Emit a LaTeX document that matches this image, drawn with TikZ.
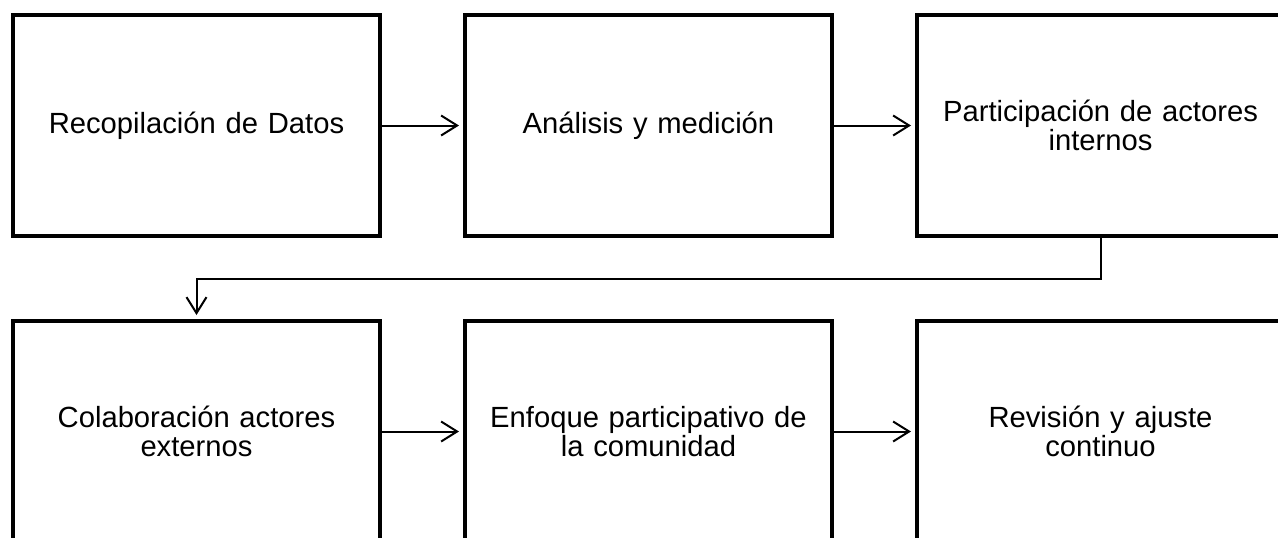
\documentclass[tikz,border=0pt]{standalone}
\usepackage{fontspec}
\setmainfont{Liberation Sans}
\usetikzlibrary{arrows.meta,positioning}

\begin{document}
\begin{tikzpicture}[
  node distance=42.5pt and 42.5pt,
  >={Straight Barb[length=8pt,width=10pt]},
  every node/.style={font=\fontsize{14.6pt}{14.5pt}\selectfont, align=center},
  stage/.style={draw, line width=2.2pt, outer sep=0pt, minimum width=183.5pt, minimum height=110.5pt, text width=175pt},
  arrow/.style={->, line width=1pt, color=black, shorten >=3pt}
]
\useasboundingbox (0,0) rectangle (639pt,-268.5pt);

\node[stage] (recop) at (98.25pt,-62.75pt) {Recopilación de Datos};
\node[stage, right=of recop] (analisis) {Análisis y medición};
\node[stage, right=of analisis] (internos) {Participación de actores\\internos};

\node[stage, below=of recop] (externos) {Colaboración actores\\externos};
\node[stage, right=of externos] (enfoque) {Enfoque participativo de\\la comunidad};
\node[stage, right=of enfoque] (revision) {Revisión y ajuste\\continuo};

\draw[arrow] (recop) -- (analisis);
\draw[arrow] (analisis) -- (internos);
\draw[arrow] (internos.south) -- ++(0,-21.25pt) -| (externos.north);
\draw[arrow] (externos) -- (enfoque);
\draw[arrow] (enfoque) -- (revision);

\end{tikzpicture}
\end{document}
